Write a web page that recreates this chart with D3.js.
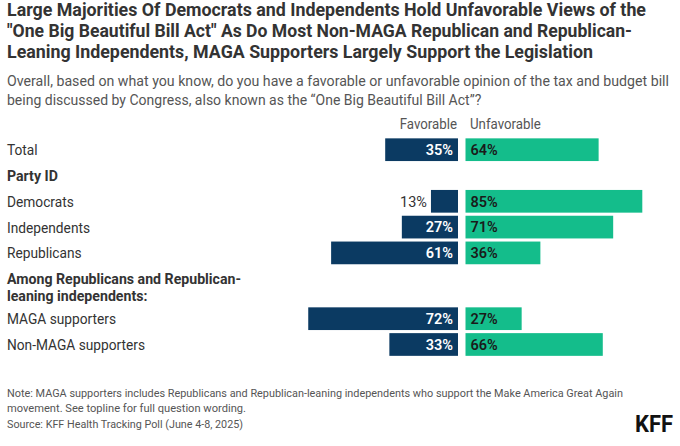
<!DOCTYPE html>
<html>
<head>
<meta charset="utf-8">
<script src="https://cdn.jsdelivr.net/npm/d3@7"></script>
<style>
  html, body { margin: 0; padding: 0; background: #fff; }
  svg { display: block; font-family: Roboto, "Noto Sans", sans-serif; }
</style>
</head>
<body>
<svg id="chart" width="680" height="446"></svg>
<script>
// ---- data ----
const categories = ["Total", "Democrats", "Independents", "Republicans", "MAGA supporters", "Non-MAGA supporters"];
const favorable = [35, 13, 27, 61, 72, 33];
const unfavorable = [64, 85, 71, 36, 27, 66];
const groupOf = [0, 1, 1, 1, 2, 2];
const groupHeaders = [[], ["Party ID"], ["Among Republicans and Republican-", "leaning independents:"]];
const seriesNames = ["Favorable", "Unfavorable"];
const titleLines = [
  "Large Majorities Of Democrats and Independents Hold Unfavorable Views of the",
  "\"One Big Beautiful Bill Act\" As Do Most Non-MAGA Republican and Republican-",
  "Leaning Independents, MAGA Supporters Largely Support the Legislation"
];
const subtitleLines = [
  "Overall, based on what you know, do you have a favorable or unfavorable opinion of the tax and budget bill",
  "being discussed by Congress, also known as the \u201cOne Big Beautiful Bill Act\u201d?"
];
const noteLines = [
  "Note: MAGA supporters includes Republicans and Republican-leaning independents who support the Make America Great Again",
  "movement. See topline for full question wording."
];
const sourceLine = "Source: KFF Health Tracking Poll (June 4-8, 2025)";

// ---- styling ----
const navy = "#0b3a62", green = "#14bd8b";
const textDark = "#333333", textMid = "#555555";
const svg = d3.select("#chart");

function fitText(sel, width) {
  sel.each(function () {
    const w = this.getComputedTextLength();
    if (Math.abs(w - width) > 1) {
      d3.select(this).attr("textLength", width).attr("lengthAdjust", "spacingAndGlyphs");
    }
  });
}
function squeeze(sel, factor) {
  sel.each(function () {
    if (factor < 0.995) {
      const w = this.getComputedTextLength();
      d3.select(this).attr("textLength", w * factor).attr("lengthAdjust", "spacingAndGlyphs");
    }
  });
}
function measure(txt, size, weight) {
  const p = svg.append("text").attr("font-size", size).attr("font-weight", weight).text(txt);
  const w = p.node().getComputedTextLength();
  p.remove();
  return w;
}

// ---- title & subtitle ----
const titleWidths = [639, 625, 586];
titleLines.forEach((t, i) => {
  svg.append("text").attr("x", 7).attr("y", 16 + i * 21)
    .attr("font-size", 17.5).attr("font-weight", 700).attr("fill", textDark)
    .text(t).call(fitText, titleWidths[i]);
});
const subWidths = [662, 474];
subtitleLines.forEach((t, i) => {
  svg.append("text").attr("x", 7).attr("y", 86 + i * 19)
    .attr("font-size", 14).attr("fill", textMid)
    .text(t).call(fitText, subWidths[i]);
});

// ---- row layout ----
const items = [];
categories.forEach((c, i) => {
  const g = groupOf[i];
  if (i === 0 || groupOf[i - 1] !== g) {
    if (groupHeaders[g].length) items.push({ type: "header", lines: groupHeaders[g], units: groupHeaders[g].length > 1 ? 1.55 : 1 });
  }
  items.push({ type: "bar", idx: i, units: 1 });
});
let acc = 0;
items.forEach(d => { d.start = acc; acc += d.units; });
const step = 25.8;
const plotTop = 136.8;
const y = d3.scaleLinear().domain([0, acc]).range([plotTop, plotTop + acc * step]);
const barPad = 0.12;

const xFav = d3.scaleLinear().domain([0, 100]).range([458, 250]);
const xUnf = d3.scaleLinear().domain([0, 100]).range([465.5, 673.5]);

const labelSize = 15;
const regFactor = Math.min(1, 138 / measure(categories[5], labelSize, 400));
const boldFactor = Math.min(1, 234 / measure(groupHeaders[2][0], labelSize, 700));

// column headers
svg.append("text").attr("x", 457).attr("y", 129).attr("text-anchor", "end")
  .attr("font-size", 14.5).attr("fill", textMid).text(seriesNames[0]).call(squeeze, regFactor);
svg.append("text").attr("x", 470).attr("y", 129)
  .attr("font-size", 14.5).attr("fill", textMid).text(seriesNames[1]).call(squeeze, regFactor);

// group headers
items.filter(d => d.type === "header").forEach(d => {
  d.lines.forEach((ln, k) => {
    svg.append("text").attr("x", 7).attr("y", y(d.start) + 18 + k * 17.5)
      .attr("font-size", labelSize).attr("font-weight", 700).attr("fill", textDark).text(ln)
      .call(squeeze, boldFactor);
  });
});

const bars = items.filter(d => d.type === "bar");
const rowG = svg.selectAll("g.row").data(bars).join("g").attr("class", "row");
rowG.each(function (d) {
  const g = d3.select(this);
  const i = d.idx;
  const y0 = y(d.start + barPad / 2), y1 = y(d.start + 1 - barPad / 2);
  const cy = (y0 + y1) / 2;
  g.append("text").attr("x", 7).attr("y", cy + 5.5)
    .attr("font-size", labelSize).attr("fill", textDark).text(categories[i]).call(squeeze, regFactor);
  // favorable
  g.append("rect").attr("x", xFav(favorable[i])).attr("y", y0)
    .attr("width", xFav(0) - xFav(favorable[i])).attr("height", y1 - y0).attr("fill", navy);
  const inside = xFav(0) - xFav(favorable[i]) > 40;
  g.append("text")
    .attr("x", inside ? xFav(0) - 5 : xFav(favorable[i]) - 4)
    .attr("y", cy + 5.2).attr("text-anchor", "end")
    .attr("font-size", 14.5).attr("font-weight", inside ? 600 : 400)
    .attr("fill", inside ? "#ffffff" : textDark).text(favorable[i] + "%");
  // unfavorable
  g.append("rect").attr("x", xUnf(0)).attr("y", y0)
    .attr("width", xUnf(unfavorable[i]) - xUnf(0)).attr("height", y1 - y0).attr("fill", green);
  g.append("text").attr("x", xUnf(0) + 5).attr("y", cy + 5.2)
    .attr("font-size", 14.5).attr("font-weight", 600).attr("fill", "#1a1a1a")
    .text(unfavorable[i] + "%");
});

// ---- notes ----
const noteWidths = [616, 239];
noteLines.forEach((t, i) => {
  svg.append("text").attr("x", 7).attr("y", 397.3 + i * 15)
    .attr("font-size", 11).attr("fill", textMid).text(t).call(fitText, noteWidths[i]);
});
svg.append("text").attr("x", 7).attr("y", 427.7)
  .attr("font-size", 11).attr("fill", textMid).text(sourceLine).call(fitText, 236);
svg.append("text").attr("x", 673).attr("y", 431.7).attr("text-anchor", "end")
  .attr("font-size", 23).attr("font-weight", 700).attr("fill", "#111").text("KFF").call(fitText, 38);
</script>
</body>
</html>
